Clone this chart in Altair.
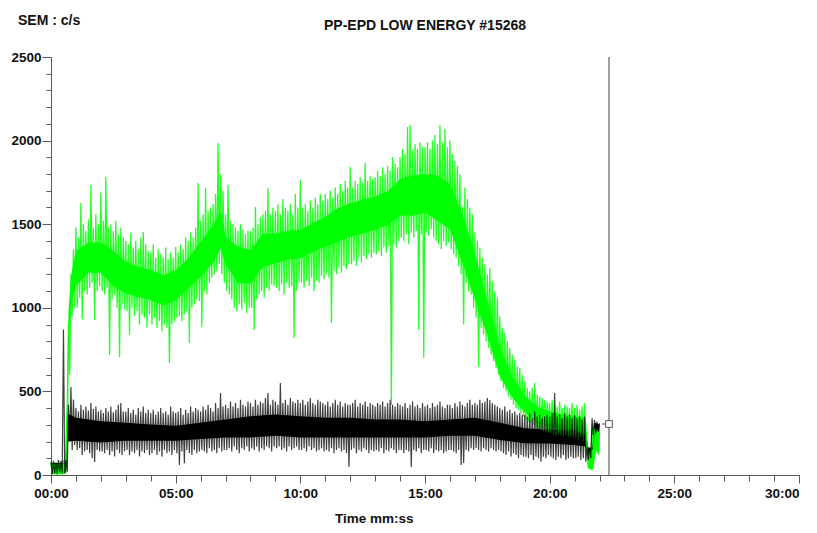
import altair as alt
import pandas as pd

TITLE = "PP-EPD LOW ENERGY #15268"
Y_TITLE = "SEM : c/s"
X_TITLE = "Time  mm:ss"

# ---- dense inner core of each trace (time in minutes, c/s) ----
core_t = [0.0, 0.55, 0.62, 0.7, 0.8, 1.0, 1.5, 2.0, 2.5, 3.0, 3.5, 4.0, 4.5, 5.0, 5.5,
          6.0, 6.5, 6.8, 7.0, 7.5, 8.0, 8.5, 9.0, 9.5, 10.0, 10.5, 11.0, 11.5, 12.0,
          12.5, 13.0, 13.5, 14.0, 14.5, 15.0, 15.5, 16.0, 16.5, 17.0, 17.5, 18.0,
          18.5, 19.0, 19.5, 20.0, 20.5, 21.0, 21.45, 21.55, 21.75, 21.85, 22.0]
green_core_lo = [5, 5, 100, 725, 1030, 1130, 1210, 1210, 1130, 1085, 1065, 1045, 1015, 1045, 1115,
                 1185, 1270, 1350, 1265, 1145, 1145, 1245, 1265, 1290, 1295, 1335, 1365, 1395, 1425,
                 1445, 1465, 1495, 1550, 1550, 1570, 1520, 1470, 1270, 1050, 835, 590,
                 465, 375, 310, 290, 276, 266, 238, 40, 30, 145, 125]
green_core_hi = [58, 68, 375, 975, 1190, 1340, 1390, 1390, 1340, 1275, 1245, 1225, 1195, 1225, 1295,
                 1395, 1490, 1580, 1425, 1365, 1345, 1445, 1445, 1460, 1465, 1505, 1545, 1595, 1625,
                 1645, 1665, 1695, 1770, 1790, 1800, 1790, 1740, 1560, 1325, 1045, 760,
                 585, 472, 410, 380, 362, 352, 342, 135, 155, 275, 255]

black_core_t = [0.0, 0.6, 0.68, 1.0, 2.0, 3.0, 4.0, 5.0, 6.0, 7.0, 8.0, 9.0, 10.0, 11.0,
                12.0, 13.0, 14.0, 15.0, 16.0, 17.0, 18.0, 19.0, 20.0, 21.0, 21.45, 21.55,
                21.7, 21.8, 22.0]
black_core_lo = [10, 10, 200, 205, 195, 205, 205, 205, 215, 225, 225, 235, 225, 225,
                 225, 225, 225, 225, 235, 235, 210, 190, 188, 180, 170, 95,
                 95, 208, 228]
black_core_hi = [72, 72, 365, 342, 322, 312, 302, 295, 312, 332, 352, 362, 352, 342,
                 342, 332, 332, 322, 332, 342, 312, 280, 270, 270, 260, 165,
                 165, 312, 302]

# ---- noise excursions: highs at t = 0.0, 0.1, ... ; lows at t = 0.05, 0.15, ... ----
green_hi = [
    70, 80, 60, 85, 75, 90, 120, 900, 1200, 1350,
    1480, 1420, 1627, 1500, 1460, 1530, 1734, 1480, 1560, 1500,
    1690, 1520, 1783, 1480, 1500, 1460, 1520, 1440, 1480, 1420,
    1400, 1380, 1450, 1360, 1400, 1350, 1420, 1453, 1380, 1340,
    1330, 1380, 1300, 1350, 1320, 1300, 1360, 1290, 1330, 1300,
    1364, 1330, 1380, 1350, 1420, 1400, 1450, 1420, 1480, 1746,
    1520, 1560, 1716, 1580, 1600, 1620, 1680, 1985, 1800, 1700,
    1560, 1734, 1520, 1500, 1480, 1460, 1500, 1470, 1440, 1460,
    1460, 1480, 1603, 1500, 1540, 1560, 1580, 1716, 1560, 1600,
    1580, 1620, 1560, 1650, 1600, 1580, 1620, 1560, 1680, 1600,
    1764, 1600, 1620, 1580, 1640, 1600, 1660, 1620, 1680, 1640,
    1680, 1650, 1700, 1660, 1720, 1680, 1740, 1700, 1760, 1720,
    1842, 1720, 1760, 1740, 1780, 1750, 1866, 1760, 1790, 1770,
    1780, 1820, 1790, 1840, 1800, 1850, 1820, 1902, 1860, 1840,
    1900, 1950, 1920, 2081, 2093, 1940, 1980, 1950, 1990, 1960,
    1960, 1990, 1950, 2000, 2033, 1980, 2093, 1990, 2070, 1960,
    2000, 1920, 1880, 1850, 1800, 1603, 1720, 1650, 1600, 1560,
    1450, 1400, 1360, 1300, 1260, 1200, 1238, 1160, 1100, 1060,
    950, 880, 850, 800, 760, 720, 690, 650, 640, 600,
    560, 520, 500, 520, 550, 480, 470, 460, 450, 440,
    430, 450, 420, 410, 440, 400, 420, 410, 400, 430,
    400, 420, 390, 410, 430, 140, 120, 300, 280, 260,
    270]
green_lo = [
    5, 10, 0, 15, 5, 10, 20, 600, 950, 1000,
    1000, 1060, 930, 1100, 1080, 1120, 1150, 927, 1100, 1130,
    1100, 1080, 1120, 717, 1050, 1080, 1000, 706, 1020, 990,
    980, 837, 1000, 950, 980, 900, 960, 940, 880, 960,
    900, 940, 880, 920, 860, 900, 880, 670, 900, 920,
    940, 950, 920, 960, 980, 790, 1000, 1020, 1050, 1040,
    885, 1100, 1080, 1150, 1180, 1200, 1220, 1260, 1200, 1150,
    1100, 1080, 1050, 1000, 980, 1020, 990, 1030, 968, 1000,
    1000, 867, 1050, 1080, 1100, 1060, 1120, 1100, 1140, 1130,
    1120, 1100, 1140, 1080, 1150, 1120, 1130, 819, 1100, 1150,
    1150, 1120, 1160, 1130, 1180, 1100, 1160, 1150, 1190, 1170,
    1200, 1180, 909, 1220, 1200, 1240, 1210, 1250, 1230, 1260,
    1260, 1280, 1250, 1300, 1270, 1310, 1290, 1320, 1300, 1330,
    1320, 1340, 1310, 1360, 1330, 1370, 418, 1380, 1360, 1400,
    1420, 1400, 1440, 1380, 1450, 1420, 1460, 867, 1440, 700,
    1450, 1430, 1470, 1420, 1400, 1380, 1350, 1400, 1370, 1390,
    1350, 1320, 1300, 1250, 1200, 900, 1150, 1100, 1080, 1000,
    940, 646, 880, 840, 800, 760, 720, 680, 640, 600,
    560, 520, 500, 470, 450, 420, 400, 390, 370, 350,
    330, 320, 310, 300, 290, 280, 270, 265, 260, 255,
    250, 240, 230, 245, 235, 230, 240, 225, 230, 220,
    220, 210, 230, 200, 180, 40, 30, 150, 160, 120]

black_hi = [
    80, 85, 75, 90, 85, 870, 90, 420, 526, 451,
    400, 380, 420, 390, 410, 385, 430, 395, 410, 380,
    390, 370, 400, 380, 410, 375, 390, 420, 430, 380,
    380, 400, 370, 390, 360, 400, 380, 410, 370, 390,
    370, 390, 360, 380, 400, 370, 380, 360, 410, 380,
    370, 380, 400, 360, 390, 370, 410, 380, 400, 390,
    380, 410, 390, 420, 400, 380, 430, 400, 490, 410,
    420, 400, 440, 410, 430, 400, 450, 420, 410, 440,
    430, 410, 450, 420, 440, 430, 460, 490, 420, 450,
    440, 420, 550, 430, 450, 420, 460, 440, 430, 450,
    430, 450, 420, 440, 460, 430, 420, 450, 440, 430,
    420, 440, 410, 430, 450, 420, 440, 410, 430, 420,
    420, 430, 450, 410, 430, 420, 440, 410, 430, 420,
    410, 430, 420, 440, 410, 430, 450, 420, 410, 430,
    420, 410, 430, 400, 420, 440, 410, 420, 400, 430,
    410, 420, 400, 430, 410, 420, 440, 410, 400, 420,
    420, 400, 430, 410, 440, 420, 410, 430, 450, 420,
    430, 420, 450, 430, 440, 460, 449, 430, 420, 410,
    400, 390, 410, 380, 390, 370, 380, 360, 370, 360,
    360, 350, 370, 340, 380, 350, 360, 340, 350, 360,
    350, 370, 490, 350, 360, 340, 370, 350, 360, 340,
    360, 340, 350, 330, 350, 170, 160, 340, 330, 320,
    310]
black_lo = [
    5, 10, 8, 15, 10, 12, 20, 200, 150, 180,
    150, 160, 120, 140, 150, 130, 100, 78, 150, 140,
    140, 130, 150, 120, 140, 110, 150, 130, 120, 140,
    150, 120, 140, 130, 150, 110, 140, 130, 150, 120,
    130, 150, 120, 140, 110, 150, 130, 140, 120, 150,
    130, 60, 140, 70, 150, 130, 120, 150, 130, 140,
    150, 140, 130, 160, 140, 150, 130, 160, 140, 150,
    150, 160, 140, 170, 150, 130, 160, 150, 170, 140,
    160, 150, 170, 140, 160, 150, 170, 160, 140, 170,
    160, 170, 150, 160, 140, 170, 150, 160, 170, 150,
    150, 160, 140, 170, 150, 160, 140, 150, 160, 140,
    150, 140, 160, 130, 150, 160, 140, 150, 130, 48,
    150, 160, 130, 150, 140, 160, 150, 130, 150, 140,
    150, 140, 160, 130, 150, 140, 160, 150, 130, 150,
    150, 130, 150, 140, 48, 150, 140, 160, 130, 150,
    150, 140, 160, 130, 150, 140, 150, 130, 140, 150,
    150, 140, 130, 150, 60, 72, 150, 140, 160, 150,
    160, 150, 140, 160, 150, 140, 160, 150, 140, 150,
    140, 130, 120, 140, 110, 130, 120, 100, 120, 110,
    110, 100, 120, 90, 110, 100, 80, 110, 100, 120,
    110, 100, 90, 110, 100, 120, 90, 100, 110, 100,
    100, 110, 90, 100, 80, 90, 100, 240, 250, 260]

# cursor line and end marker
cursor_t = [22.38]
end_t = [22.1, 22.38]
end_v = [305, 305]

X_MAJOR = list(range(0, 31, 5))
X_MINOR = list(range(0, 31, 1))
Y_MAJOR = list(range(0, 2501, 500))
Y_MINOR = list(range(0, 2501, 100))


def zigzag(hi, lo):
    rows = []
    for k, h in enumerate(hi):
        rows.append({"t": round(0.1 * k, 3), "v": h})
        if k < len(lo):
            rows.append({"t": round(0.1 * k + 0.05, 3), "v": lo[k]})
    return pd.DataFrame(rows)


green_core = pd.DataFrame({"t": core_t, "lo": green_core_lo, "hi": green_core_hi})
black_core = pd.DataFrame({"t": black_core_t, "lo": black_core_lo, "hi": black_core_hi})
green_zz = zigzag(green_hi, green_lo)
black_zz = zigzag(black_hi, black_lo)
end_df = pd.DataFrame({"t": end_t, "v": end_v})
cursor_df = pd.DataFrame({"t": cursor_t})
marker_df = pd.DataFrame({"t": [end_t[-1]], "v": [end_v[-1]]})

xs = alt.Scale(domain=[0, 30], nice=False, zero=False)
ys = alt.Scale(domain=[0, 2500], nice=False)

FONT = "Liberation Sans"
AXC = "#5a5a5a"

x_major = alt.Axis(values=X_MAJOR, orient="bottom", title=None, grid=False,
                   labelExpr="(datum.value < 10 ? '0' : '') + datum.value + ':00'",
                   labelAlign={"condition": {"test": "datum.value == 30", "value": "right"},
                               "value": "center"},
                   labelFont=FONT, labelFontSize=13.5, labelFontWeight="bold",
                   labelColor="#111111", tickColor=AXC, domainColor=AXC, tickSize=8,
                   labelPadding=3, labelFlush=False, labelOverlap=False)
x_minor = alt.Axis(values=X_MINOR, orient="bottom", title=None, grid=False, labels=False,
                   domain=False, tickColor=AXC, tickSize=6)
y_major = alt.Axis(values=Y_MAJOR, orient="left", title=None, grid=False, format="d",
                   labelFont=FONT, labelFontSize=13.5, labelFontWeight="bold",
                   labelColor="#111111", tickColor=AXC, domainColor=AXC, tickSize=9,
                   labelPadding=1, labelFlush=False, labelOverlap=False)
y_minor = alt.Axis(values=Y_MINOR, orient="left", title=None, grid=False, labels=False,
                   domain=False, tickColor=AXC, tickSize=5)

black_area = alt.Chart(black_core).mark_area(color="#000000", opacity=1).encode(
    x=alt.X("t:Q", scale=xs, axis=x_minor),
    y=alt.Y("lo:Q", scale=ys, axis=y_minor),
    y2="hi:Q",
)
green_area = alt.Chart(green_core).mark_area(color="#00ff00", opacity=1).encode(
    x=alt.X("t:Q", scale=xs, axis=x_major),
    y=alt.Y("lo:Q", scale=ys, axis=y_major),
    y2="hi:Q",
)
green_line = alt.Chart(green_zz).mark_line(color="#00ff00", strokeWidth=1.3, opacity=0.85).encode(
    x=alt.X("t:Q", scale=xs, axis=None),
    y=alt.Y("v:Q", scale=ys, axis=None),
)
black_line = alt.Chart(black_zz).mark_line(color="#000000", strokeWidth=1.2, opacity=0.75).encode(
    x=alt.X("t:Q", scale=xs, axis=None),
    y=alt.Y("v:Q", scale=ys, axis=None),
)
end_line = alt.Chart(end_df).mark_line(color="#555555", strokeWidth=1).encode(
    x=alt.X("t:Q", scale=xs, axis=None),
    y=alt.Y("v:Q", scale=ys, axis=None),
)
cursor = alt.Chart(cursor_df).mark_rule(color="#444444", strokeWidth=1).encode(
    x=alt.X("t:Q", scale=xs, axis=None),
    y=alt.datum(0, scale=ys, axis=None),
    y2=alt.datum(2500),
)
marker = alt.Chart(marker_df).mark_point(shape="square", size=45, filled=True, fill="#ffffff",
                                         stroke="#555555", strokeWidth=1, opacity=1).encode(
    x=alt.X("t:Q", scale=xs, axis=None),
    y=alt.Y("v:Q", scale=ys, axis=None),
)

title_mark = alt.Chart(pd.DataFrame({"s": [TITLE]})).mark_text(
    font=FONT, fontSize=14, fontWeight="bold", align="center", baseline="middle",
    color="#111111").encode(x=alt.value(374), y=alt.value(-31), text="s:N")
ytitle_mark = alt.Chart(pd.DataFrame({"s": [Y_TITLE]})).mark_text(
    font=FONT, fontSize=14, fontWeight="bold", align="left", baseline="middle",
    color="#111111").encode(x=alt.value(-33), y=alt.value(-36), text="s:N")
xtitle_mark = alt.Chart(pd.DataFrame({"s": [X_TITLE]})).mark_text(
    font=FONT, fontSize=13.5, fontWeight="bold", align="left", baseline="middle",
    color="#111111").encode(x=alt.value(284), y=alt.value(462), text="s:N")

chart = alt.layer(
    black_area, green_area, green_line, black_line, end_line, cursor, marker,
    title_mark, ytitle_mark, xtitle_mark,
).resolve_axis(x="independent", y="independent").properties(
    width=748, height=418,
    autosize=alt.AutoSizeParams(type="none"),
    padding={"left": 43, "top": 49, "right": 10, "bottom": 50},
).configure(font=FONT, background="white", view=alt.ViewConfig(stroke=None))

chart.save("out.html", embed_options={"renderer": "svg", "actions": False})
